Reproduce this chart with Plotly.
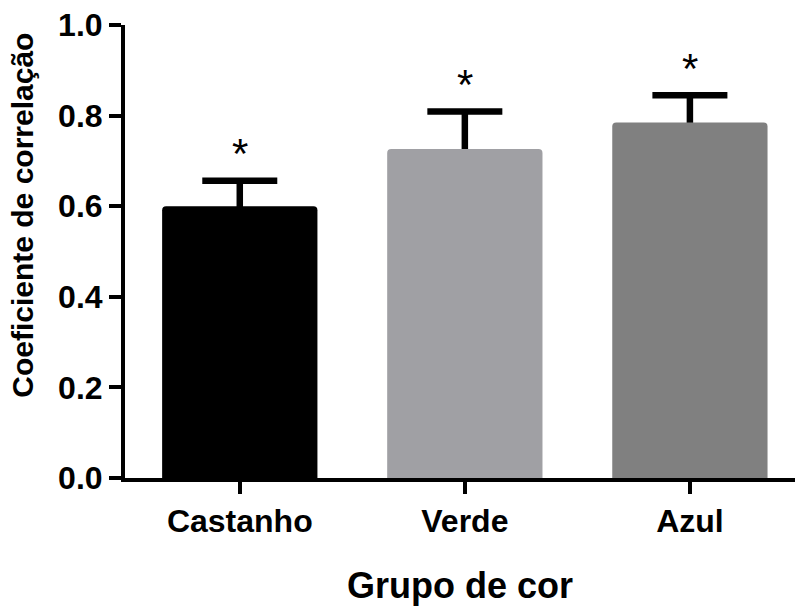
import plotly.graph_objects as go

categories = ["Castanho", "Verde", "Azul"]
means = [0.600, 0.726, 0.785]
errors = [0.056, 0.083, 0.060]
colors = ["#000000", "#a0a0a4", "#808080"]
y_ticks = [0.0, 0.2, 0.4, 0.6, 0.8, 1.0]
y_tick_labels = ["0.0", "0.2", "0.4", "0.6", "0.8", "1.0"]
significance = ["*", "*", "*"]
x_title = "Grupo de cor"
y_title = "Coeficiente de correlação"

FONT = "Arial, 'Liberation Sans', Helvetica, sans-serif"
x_idx = list(range(len(categories)))

fig = go.Figure()
# error bars (drawn first so the bars hide their lower halves)
fig.add_trace(go.Bar(
    x=x_idx, y=means, width=0.69,
    marker=dict(color="rgba(0,0,0,0)", line=dict(width=0)),
    error_y=dict(type="data", array=errors, symmetric=True,
                 thickness=6.5, width=37.5, color="black"),
    hoverinfo="skip", showlegend=False,
))
fig.add_trace(go.Bar(
    x=x_idx, y=means, width=0.69,
    marker=dict(color=colors, line=dict(width=0), cornerradius=4),
    showlegend=False,
))

for i, (m, e, s) in enumerate(zip(means, errors, significance)):
    fig.add_annotation(x=i, y=m + e, text=s, showarrow=False,
                       yanchor="middle", xanchor="center", yshift=27,
                       font=dict(family=FONT, size=42, color="black"))

# y-axis title as a rotated annotation (positioned like the reference)
fig.add_annotation(xref="paper", yref="paper", x=-0.153, y=0.58,
                   text="<b>" + y_title + "</b>", textangle=-90,
                   showarrow=False, xanchor="center", yanchor="middle",
                   font=dict(family=FONT, size=30, color="black"))

fig.update_layout(
    width=795, height=606,
    margin=dict(l=125, r=0, t=25, b=128),
    paper_bgcolor="white", plot_bgcolor="white",
    barmode="overlay",
    font=dict(family=FONT, color="black"),
    xaxis=dict(
        range=[-0.51, 2.467],
        tickmode="array", tickvals=x_idx, ticktext=categories,
        ticks="outside", ticklen=12, tickwidth=4, tickcolor="black",
        showline=True, linewidth=4, linecolor="black",
        showgrid=False, zeroline=False,
        tickfont=dict(family=FONT, size=32, color="black", weight="bold"),
        title=dict(text="<b>" + x_title + "</b>", standoff=41,
                   font=dict(family=FONT, size=36, color="black")),
    ),
    yaxis=dict(
        range=[0, 1.0],
        tickmode="array", tickvals=y_ticks, ticktext=y_tick_labels,
        ticks="outside", ticklen=12, tickwidth=4, tickcolor="black",
        showline=True, linewidth=4, linecolor="black",
        showgrid=False, zeroline=False,
        tickfont=dict(family=FONT, size=32, color="black", weight="bold"),
    ),
)

fig.write_html("out.html")
